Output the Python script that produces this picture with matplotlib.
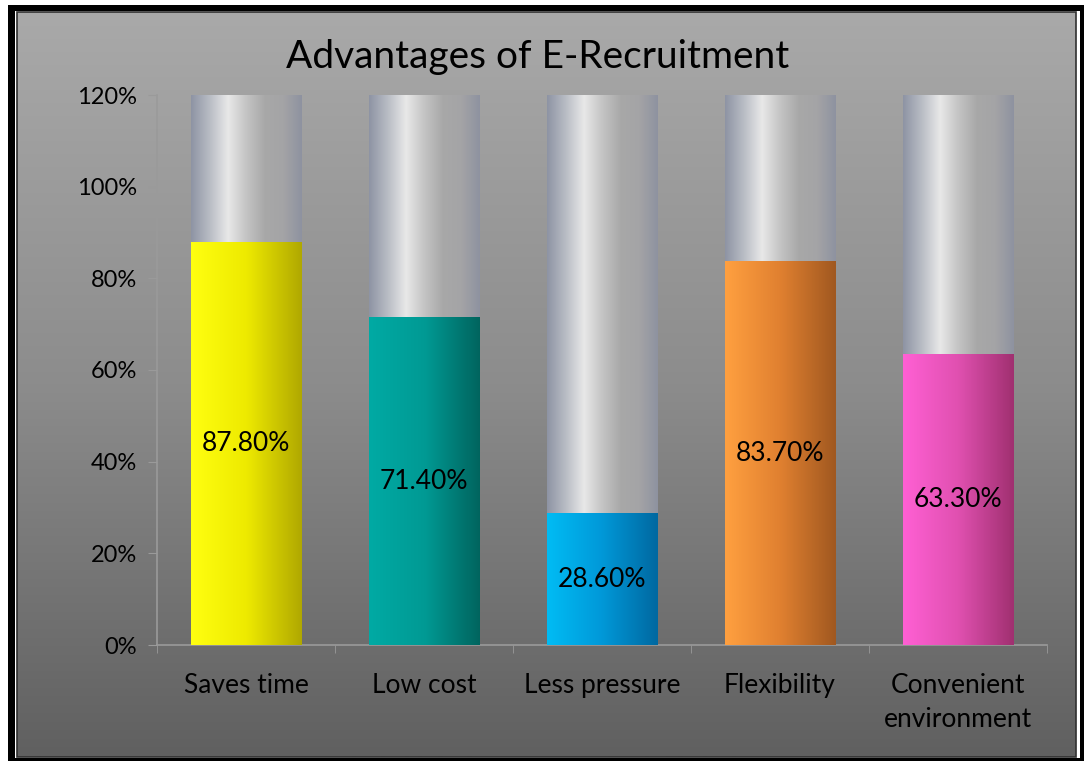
import numpy as np
import matplotlib
matplotlib.use("Agg")
import matplotlib.pyplot as plt
from matplotlib.colors import LinearSegmentedColormap
from matplotlib.patches import Rectangle

plt.rcParams['font.family'] = ['Lato', 'DejaVu Sans']

# --- Data ---
categories = ["Saves time", "Low cost", "Less pressure", "Flexibility", "Convenient\nenvironment"]
values = [0.878, 0.714, 0.286, 0.837, 0.633]
labels = ["87.80%", "71.40%", "28.60%", "83.70%", "63.30%"]
y_max = 1.2
y_ticks = [0, 0.2, 0.4, 0.6, 0.8, 1.0, 1.2]
y_tick_labels = ["0%", "20%", "40%", "60%", "80%", "100%", "120%"]

# left -> right gradient stops for each coloured bar
bar_grads = [
    ["#ffff10", "#eeea00", "#b0a800"],
    ["#00aaa4", "#009a94", "#00645e"],
    ["#00bcf4", "#0098d8", "#0068a0"],
    ["#ffa040", "#e08030", "#a05820"],
    ["#ff60d4", "#e050b0", "#a03070"],
]
grey_grad = ["#8e94a4", "#b8bcc4", "#e8e8e8", "#c4c4c4", "#a8a8a8", "#a4a4a6", "#8e92a0"]

W, H = 1084, 761
fig = plt.figure(figsize=(W / 100, H / 100), dpi=100)
fig.patch.set_facecolor("white")

# background / frame layer in pixel coordinates
bg = fig.add_axes([0, 0, 1, 1])
bg.set_xlim(0, W)
bg.set_ylim(H, 0)
bg.axis("off")
bg.add_patch(Rectangle((8, 5), W - 8, H - 5, facecolor="black", edgecolor="none"))
bg.add_patch(Rectangle((15, 11), 1080 - 15, 758 - 11, facecolor="white", edgecolor="none"))
vert = np.linspace(0, 1, 256).reshape(-1, 1)
bg_cmap = LinearSegmentedColormap.from_list("bg", ["#a9a9a9", "#8c8c8c", "#606060"])
bg.imshow(vert, cmap=bg_cmap, aspect="auto", extent=(17, 1076, 757, 12), zorder=1)
bg.add_patch(Rectangle((17, 12), 1076 - 17, 757 - 12, facecolor="none",
                       edgecolor="#303030", linewidth=1.2, zorder=2))

# plot area
ax = fig.add_axes([157 / W, 1 - 645 / H, (1047 - 157) / W, (645 - 95) / H])
ax.patch.set_alpha(0)
x = np.arange(len(categories))
bar_w = 0.62

horiz = np.linspace(0, 1, 256).reshape(1, -1)
grey_cmap = LinearSegmentedColormap.from_list("grey", grey_grad)

back_bars = ax.bar(x, [y_max] * len(x), width=bar_w, color="none", edgecolor="none")
front_bars = ax.bar(x, values, width=bar_w, color="none", edgecolor="none")

for bb, fb, grad, lab, v in zip(back_bars, front_bars, bar_grads, labels, values):
    x0 = bb.get_x()
    x1 = x0 + bb.get_width()
    ax.imshow(horiz, cmap=grey_cmap, aspect="auto",
              extent=(x0, x1, 0, bb.get_height()), zorder=2)
    cm = LinearSegmentedColormap.from_list("c", grad)
    ax.imshow(horiz, cmap=cm, aspect="auto",
              extent=(x0, x1, 0, fb.get_height()), zorder=3)
    ax.text(fb.get_x() + fb.get_width() / 2, v / 2, lab, ha="center", va="center",
            fontsize=19, color="black", zorder=4)

ax.set_xlim(-0.5, len(x) - 0.5)
ax.set_ylim(0, y_max)
ax.set_yticks(y_ticks)
ax.set_yticklabels(y_tick_labels, fontsize=17)
ax.set_xticks(x)
ax.set_xticklabels(categories, fontsize=19, linespacing=1.45)
ax.set_xticks(np.arange(len(x) + 1) - 0.5, minor=True)
ax.tick_params(axis="x", which="major", length=0, pad=20)
ax.tick_params(axis="x", which="minor", length=6, color="#9a9a9a", direction="out")
ax.tick_params(axis="y", length=6.5, color="#9a9a9a", pad=8)
for s in ["top", "right"]:
    ax.spines[s].set_visible(False)
for s in ["left", "bottom"]:
    ax.spines[s].set_color("#9a9a9a")
    ax.spines[s].set_linewidth(1.2)

fig.text(538 / W, 1 - 57 / H, "Advantages of E-Recruitment", ha="center", va="center",
         fontsize=28, color="black")

fig.savefig("out.png", dpi=100, facecolor=fig.get_facecolor())
